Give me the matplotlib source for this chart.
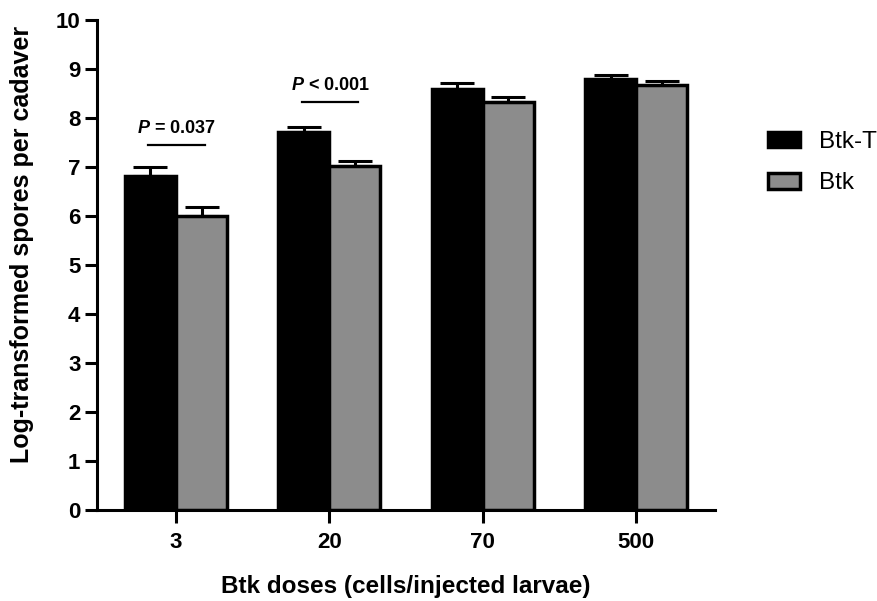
import matplotlib.pyplot as plt
import numpy as np
from matplotlib.patches import Patch

plt.rcParams["font.family"] = ["Liberation Sans", "DejaVu Sans"]
plt.rcParams["mathtext.fontset"] = "custom"
plt.rcParams["mathtext.it"] = "Liberation Sans:bold:italic"
plt.rcParams["mathtext.rm"] = "Liberation Sans:bold"

doses = ["3", "20", "70", "500"]
btk_t = [6.82, 7.71, 8.59, 8.80]
btk_t_err = [0.19, 0.11, 0.12, 0.08]
btk = [6.00, 7.02, 8.33, 8.67]
btk_err = [0.18, 0.10, 0.10, 0.09]

p_labels = ["$P$ = 0.037", "$P$ < 0.001"]
p_groups = [0, 1]
p_heights = [7.45, 8.33]

fig = plt.figure(figsize=(8.77, 6.01), dpi=100)
ax = fig.add_axes([0.1106, 0.1514, 0.7047, 0.8153])

x = np.arange(len(doses))
w = 0.333
err_kw = dict(ecolor="black", elinewidth=2.2, capsize=12, capthick=2.2)

ax.bar(x - w / 2, btk_t, w, color="black", edgecolor="black", linewidth=2.5,
       yerr=[np.zeros(4), btk_t_err], error_kw=err_kw, zorder=2)
ax.bar(x + w / 2, btk, w, color="#8c8c8c", edgecolor="black", linewidth=2.5,
       yerr=[np.zeros(4), btk_err], error_kw=err_kw, zorder=2)

# significance brackets
for g, h, lab in zip(p_groups, p_heights, p_labels):
    ax.plot([g - 0.18, g + 0.19], [h, h], color="black", lw=1.6)
    ax.text(g + 0.005, h + 0.17, lab, ha="center", va="bottom",
            fontsize=13, fontweight="bold")

ax.set_xlim(-0.515, 3.515)
ax.set_ylim(0, 10)
ax.set_yticks(range(0, 11))
ax.set_xticks(x)
ax.set_xticklabels(doses)

for side in ["top", "right"]:
    ax.spines[side].set_visible(False)
for side in ["left", "bottom"]:
    ax.spines[side].set_linewidth(2.2)

ax.tick_params(axis="both", width=2.2, length=9, labelsize=16)
ax.tick_params(axis="x", pad=7)
ax.tick_params(axis="y", pad=3)
for lab in ax.get_xticklabels() + ax.get_yticklabels():
    lab.set_fontweight("bold")

ax.set_ylabel("Log-transformed spores per cadaver", fontsize=18,
              fontweight="bold", va="center")
ax.yaxis.set_label_coords(-0.121, 0.543)
ax.set_xlabel("Btk doses (cells/injected larvae)", fontsize=17.5,
              fontweight="bold", labelpad=16)

handles = [Patch(facecolor="black", edgecolor="black", linewidth=2.5),
           Patch(facecolor="#8c8c8c", edgecolor="black", linewidth=2.5)]
fig.legend(handles, ["Btk-T", "Btk"], loc="upper left",
           bbox_to_anchor=(0.8757, 0.782), frameon=False, fontsize=17.5,
           borderaxespad=0, borderpad=0,
           handlelength=1.3, handleheight=0.62, labelspacing=0.8,
           handletextpad=0.78)

fig.savefig("out.png", dpi=100)
